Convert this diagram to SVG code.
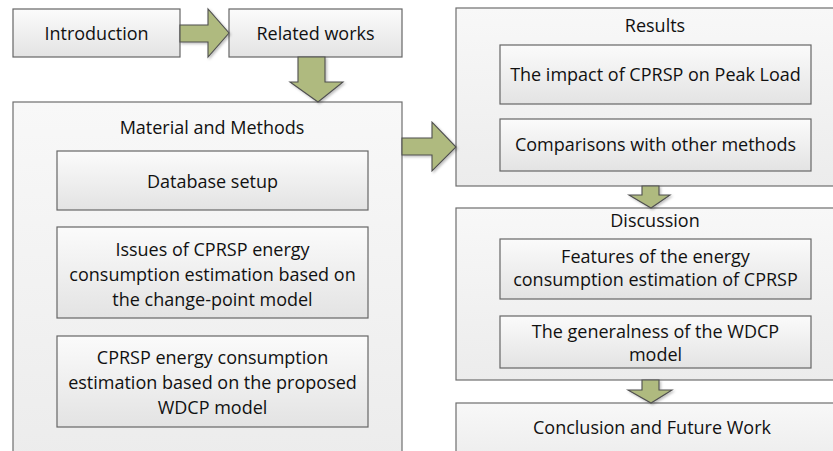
<svg xmlns="http://www.w3.org/2000/svg" width="833" height="451" viewBox="0 0 833 451">
<defs>
<linearGradient id="gIn" x1="0" y1="0" x2="0" y2="1"><stop offset="0" stop-color="#fbfbfb"/><stop offset="1" stop-color="#e3e3e3"/></linearGradient>
<linearGradient id="gOut" x1="0" y1="0" x2="0" y2="1"><stop offset="0" stop-color="#f8f8f8"/><stop offset="1" stop-color="#ececec"/></linearGradient>
<filter id="sh" x="-20%" y="-20%" width="140%" height="140%"><feDropShadow dx="1.5" dy="1.5" stdDeviation="1.2" flood-color="#000" flood-opacity="0.25"/></filter>
</defs>
<style>
.box{fill:url(#gIn);stroke:#666;stroke-width:1.2}
.outer{fill:url(#gOut);stroke:#6e6e6e;stroke-width:1.2}
.arrow{fill:#afba7f;stroke:#4f4f4f;stroke-width:1.1;stroke-linejoin:miter;filter:url(#sh)}
text{font-family:"Open Sans","Noto Sans","Liberation Sans",sans-serif;font-size:18px;fill:#111;text-anchor:middle}
</style>
<rect width="833" height="451" fill="#fff"/>
<g id="material-and-methods">
<rect class="outer" x="13" y="102" width="389" height="360"/>
<text x="212" y="134">Material and Methods</text>
</g>
<g id="database-setup">
<rect class="box" x="57" y="151" width="311" height="59"/>
<text x="212.5" y="188">Database setup</text>
</g>
<g id="issues">
<rect class="box" x="57" y="227" width="311" height="91"/>
<text x="212.5" y="256">Issues of CPRSP energy</text>
<text x="212.5" y="281">consumption estimation based on</text>
<text x="212.5" y="306">the change-point model</text>
</g>
<g id="wdcp-estimation">
<rect class="box" x="57" y="336" width="311" height="91"/>
<text x="212.5" y="364">CPRSP energy consumption</text>
<text x="212.5" y="389">estimation based on the proposed</text>
<text x="212.5" y="414">WDCP model</text>
</g>
<g id="results">
<rect class="outer" x="456" y="8" width="390" height="178"/>
<text x="655" y="32">Results</text>
</g>
<g id="impact">
<rect class="box" x="500" y="45" width="311" height="59"/>
<text x="655.5" y="81">The impact of CPRSP on Peak Load</text>
</g>
<g id="comparisons">
<rect class="box" x="500" y="119" width="311" height="52"/>
<text x="655.5" y="151">Comparisons with other methods</text>
</g>
<g id="discussion">
<rect class="outer" x="456" y="208" width="390" height="172"/>
<text x="655" y="227">Discussion</text>
</g>
<g id="features">
<rect class="box" x="500" y="239" width="311" height="60"/>
<text x="655.5" y="263">Features of the energy</text>
<text x="655.5" y="286">consumption estimation of CPRSP</text>
</g>
<g id="generalness">
<rect class="box" x="500" y="316" width="311" height="52"/>
<text x="655.5" y="338">The generalness of the WDCP</text>
<text x="655.5" y="361">model</text>
</g>
<g id="conclusion">
<rect class="outer" x="456" y="403" width="390" height="60"/>
<text x="652" y="434">Conclusion and Future Work</text>
</g>
<g id="introduction">
<rect class="box" x="13" y="9" width="167" height="48"/>
<text x="96.5" y="40">Introduction</text>
</g>
<g id="related-works">
<rect class="box" x="229" y="9" width="173" height="48"/>
<text x="315.5" y="40">Related works</text>
</g>
<g id="connectors">
<path class="arrow" d="M180,25 L208,25 L208,9 L229,33 L208,57 L208,42 L180,42 Z"/>
<path class="arrow" d="M298,57 L325,57 L325,82 L343,82 L318,102 L290,82 L298,82 Z"/>
<path class="arrow" d="M402,138 L432,138 L432,122 L456,147 L432,171 L432,155 L402,155 Z"/>
<path class="arrow" d="M642,186 L659,186 L659,195 L670,195 L651,208 L629,195 L642,195 Z"/>
<path class="arrow" d="M642,380 L659,380 L659,390 L672,390 L651,403 L628,390 L642,390 Z"/>
</g>
</svg>
